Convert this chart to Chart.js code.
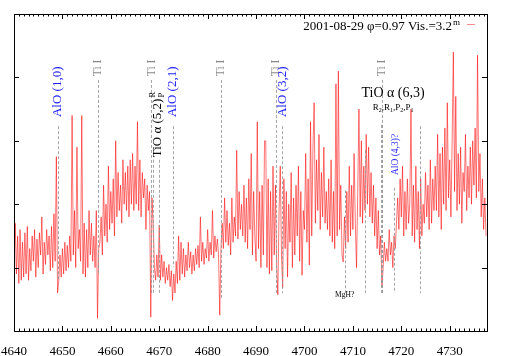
<!DOCTYPE html>
<html><head><meta charset="utf-8">
<script src="https://cdn.jsdelivr.net/npm/chart.js@4/dist/chart.umd.min.js"></script>
<style>html,body{margin:0;padding:0;background:#fff;}canvas{display:block;}</style>
</head><body>
<canvas id="c" width="509" height="356"></canvas>
<script>
// Wavelength grid (Angstrom), uniform sampling
const lambdaStart = 4640;
const lambdaStep = 0.25;
// Flux values (4 samples per Angstrom)
const flux = [
 1.0,1.7,0.9,1.5, 0.75,1.6,0.8,1.4, 0.85,1.55,0.9,1.65, 0.8,1.3,0.95,1.5, 1.1,1.6,0.85,1.45,
 1.0,1.55,1.2,1.8, 0.9,1.4,1.05,1.6, 1.2,1.5,0.95,1.65, 1.0,1.85,1.1,2.75, 0.6,0.8,1.2,0.85,
 1.3,0.9,1.4,0.95, 1.35,1.0,1.5,1.1, 3.4,1.2,1.9,1.0, 2.9,1.3,1.6,1.1, 3.4,0.9,1.7,0.85,
 1.6,1.0,1.9,1.2, 1.7,1.1,1.5,1.0, 1.9,0.2,1.3,1.4, 1.8,1.2,2.3,1.5, 2.0,1.4,2.6,1.6,
 2.2,1.7,2.4,1.5, 3.0,1.8,2.5,1.9, 2.3,1.7,2.7,2.0, 2.5,1.9,2.6,1.8, 2.7,2.0,2.8,1.9,
 2.6,2.0,3.3,1.9, 2.7,1.8,2.5,2.1, 2.4,1.6,2.3,1.9, 2.2,0.22,2.1,1.7, 1.0,0.8,1.2,0.85,
 1.67,0.8,1.2,0.85, 1.1,0.75,1.0,0.8, 1.05,0.7,0.95,0.48, 0.9,0.6,1.1,0.75, 1.5,0.8,1.4,0.9,
 1.3,0.85,1.2,0.95, 1.4,1.0,1.25,0.9, 1.2,0.95,1.3,1.05, 1.35,1.0,1.8,1.1, 1.4,1.05,1.3,1.15,
 1.6,1.1,1.4,1.2, 1.9,1.15,1.5,1.25, 1.45,1.2,0.25,1.3, 1.7,1.3,2.1,1.4, 1.9,1.35,1.7,1.2,
 2.1,1.4,1.8,1.5, 2.85,1.45,2.2,1.6, 2.0,1.5,2.3,1.4, 2.1,1.3,2.4,1.6, 2.8,1.2,2.2,1.5,
 1.1,3.3,1.3,2.2, 1.0,2.3,1.2,3.0, 3.0,1.0,2.4,0.9, 2.2,0.95,2.6,1.2, 2.3,1.0,0.57,1.9,
 2.6,1.2,0.68,2.4, 1.3,2.2,0.85,2.0, 1.4,2.5,1.0,2.1, 1.2,2.3,1.5,2.6, 1.1,2.2,0.88,1.9,
 1.6,2.8,1.4,2.4, 1.04,3.3,1.5,2.9, 3.6,1.7,2.7,1.9, 3.1,1.6,2.5,1.8, 2.9,1.7,2.2,1.6,
 2.4,1.5,2.7,1.4, 2.2,1.3,3.9,1.5, 4.1,1.6,2.3,1.2, 1.09,1.8,1.3,2.2, 1.4,2.6,1.5,2.3,
 1.6,2.8,1.7,1.0, 2.2,3.5,1.8,3.0, 1.7,2.6,1.9,3.1, 2.0,2.9,1.8,2.5, 1.7,2.3,1.5,2.1,
 1.3,1.9,1.2,1.5, 0.7,1.0,1.4,1.1, 1.3,1.1,1.6,1.2, 1.4,1.0,1.5,1.3, 1.7,2.1,1.6,2.4,
 1.8,2.6,1.5,2.2, 1.6,2.4,1.7,2.0, 3.5,1.5,2.3,1.4, 2.6,1.6,2.2,1.3, 2.4,1.5,2.0,1.7,
 2.5,1.8,2.3,1.6, 2.7,1.7,2.4,1.9, 2.6,1.9,3.1,1.8, 2.8,1.6,2.9,2.0, 3.2,1.9,3.6,2.1,
 2.7,1.8,3.0,4.4, 2.2,3.7,1.9,2.8, 2.0,2.9,1.7,2.5, 2.2,3.1,1.9,2.6, 2.1,2.9,2.0,3.0,
 2.3,3.2,2.1,4.35, 2.2,2.8,1.8,2.4, 1.6,2.1,1.5
];
const xTickLabels = [4640,4650,4660,4670,4680,4690,4700,4710,4720,4730];
const yTickValues = [1,2,3,4];

// Line identifications: position, top and bottom of dashed marker (data units)
const markPos = [4649.1, 4657.35, 4668.4, 4668.8, 4669.9, 4672.85, 4682.8, 4694.1, 4695.4, 4708.3, 4712.5, 4715.85, 4715.95, 4716.05, 4718.5, 4723.9];
const markTop = [3.23, 3.96, 3.96, 2.7, 2.7, 3.23, 3.96, 3.96, 3.23, 2.22, 2.85, 3.25, 3.96, 3.25, 2.26, 3.23];
const markBot = [0.8, 0.91, 0.6, 0.6, 0.6, 1.01, 0.49, 0.6, 0.6, 0.6, 0.6, 0.57, 0.57, 0.57, 0.6, 0.6];

// Rotated labels: text, wavelength, value at text start (bottom)
const rotText = ["AlO (1,0)", "Ti I", "Ti I", "AlO (2,1)", "Ti I", "Ti I", "AlO (3,2)", "Ti I", "AlO (4,3)?"];
const rotX    = [4649.1, 4657.35, 4668.4, 4672.85, 4682.8, 4694.1, 4695.4, 4716.0, 4718.7];
const rotY    = [3.375, 4.02, 4.02, 3.375, 4.02, 4.02, 3.375, 4.02, 2.46];
const rotKind = ["AlO", "Ti", "Ti", "AlO", "Ti", "Ti", "AlO", "Ti", "AlOs"];

const legendText = "2001-08-29 \u03C6=0.97 Vis.=3.2";

const SERIF = "'Liberation Serif','DejaVu Serif',serif";
const data = flux.map((v, i) => ({x: lambdaStart + i * lambdaStep, y: v}));

const annot = {
  id: 'annot',
  afterDatasetsDraw(chart) {
    const ctx = chart.ctx, xs = chart.scales.x, ys = chart.scales.y;
    ctx.save();
    ctx.strokeStyle = 'rgba(150,150,150,0.85)';
    ctx.lineWidth = 1;
    ctx.setLineDash([3, 2]);
    markPos.forEach((p, i) => {
      const px = Math.round(xs.getPixelForValue(p)) + 0.5;
      ctx.beginPath();
      ctx.moveTo(px, ys.getPixelForValue(markTop[i]));
      ctx.lineTo(px, ys.getPixelForValue(markBot[i]));
      ctx.stroke();
    });
    ctx.setLineDash([]);
    const styles = {
      AlO: {c: '#1a1aff', f: 13},
      Ti: {c: '#888888', f: 11.5},
      AlOs: {c: '#1a1aff', f: 9.5}
    };
    rotText.forEach((t, i) => {
      const s = styles[rotKind[i]];
      ctx.save();
      ctx.translate(xs.getPixelForValue(rotX[i]), ys.getPixelForValue(rotY[i]));
      ctx.rotate(-Math.PI / 2);
      ctx.font = s.f + 'px ' + SERIF;
      ctx.fillStyle = s.c;
      ctx.textAlign = 'left';
      ctx.textBaseline = 'middle';
      ctx.fillText(t, 0, 0);
      ctx.restore();
    });
    ctx.save();
    ctx.translate(xs.getPixelForValue(4669.75), ys.getPixelForValue(2.74));
    ctx.rotate(-Math.PI / 2);
    ctx.fillStyle = '#000';
    ctx.textAlign = 'left';
    ctx.textBaseline = 'middle';
    ctx.font = '13px ' + SERIF;
    const main = 'TiO \u03B1 (5,2)';
    ctx.fillText(main, 0, 0);
    const w = ctx.measureText(main).width;
    ctx.font = '8.5px ' + SERIF;
    ctx.fillText('R', w + 1, -5);
    ctx.fillText('P', w + 1, 4);
    ctx.restore();
    const cx = xs.getPixelForValue(4718.3);
    ctx.fillStyle = '#000';
    ctx.textAlign = 'center';
    ctx.textBaseline = 'alphabetic';
    ctx.font = '14px ' + SERIF;
    ctx.fillText('TiO \u03B1 (6,3)', cx, ys.getPixelForValue(3.69));
    const parts = [['R',0],['2',1],[',',0],['R',0],['1',1],[',',0],['P',0],['2',1],[',',0],['P',0],['1',1]];
    const big = '9px ' + SERIF, small = '6px ' + SERIF;
    let tot = 0;
    parts.forEach(p => { ctx.font = p[1] ? small : big; tot += ctx.measureText(p[0]).width; });
    let px = cx - tot / 2;
    const by = ys.getPixelForValue(3.49);
    ctx.textAlign = 'left';
    parts.forEach(p => {
      ctx.font = p[1] ? small : big;
      ctx.fillText(p[0], px, by + (p[1] ? 2 : 0));
      px += ctx.measureText(p[0]).width;
    });
    ctx.font = '7.5px ' + SERIF;
    ctx.textAlign = 'center';
    ctx.textBaseline = 'middle';
    ctx.fillText('MgH?', xs.getPixelForValue(4708.3), ys.getPixelForValue(0.57));
    ctx.restore();
  },
  afterDraw(chart) {
    const ctx = chart.ctx, xs = chart.scales.x, ys = chart.scales.y, a = chart.chartArea;
    ctx.save();
    ctx.strokeStyle = '#000';
    ctx.lineWidth = 1;
    for (let v = 4640; v <= 4737; v += 1) {
      const px = Math.round(xs.getPixelForValue(v)) + 0.5;
      const len = (v % 10 === 0) ? 5 : 2.5;
      ctx.beginPath();
      ctx.moveTo(px, a.bottom); ctx.lineTo(px, a.bottom - len);
      ctx.moveTo(px, a.top); ctx.lineTo(px, a.top + len);
      ctx.stroke();
    }
    yTickValues.forEach(v => {
      const py = Math.round(ys.getPixelForValue(v)) + 0.5;
      ctx.beginPath();
      ctx.moveTo(a.left, py); ctx.lineTo(a.left + 5, py);
      ctx.moveTo(a.right, py); ctx.lineTo(a.right - 5, py);
      ctx.stroke();
    });
    ctx.strokeRect(Math.round(a.left) + 0.5, Math.round(a.top) + 0.5, Math.round(a.right - a.left), Math.round(a.bottom - a.top));
    ctx.fillStyle = '#000';
    ctx.font = '13px ' + SERIF;
    ctx.textAlign = 'right';
    ctx.textBaseline = 'alphabetic';
    ctx.fillText(legendText, 452, 30);
    ctx.font = '9px ' + SERIF;
    ctx.textAlign = 'left';
    ctx.fillText('m', 453, 25);
    ctx.strokeStyle = 'rgba(255,0,0,0.45)';
    ctx.beginPath();
    ctx.moveTo(467, 24.5); ctx.lineTo(475, 24.5);
    ctx.stroke();
    ctx.restore();
  }
};

new Chart(document.getElementById('c'), {
  type: 'line',
  data: {
    datasets: [{
      data: data,
      borderColor: 'rgba(255,0,0,0.55)',
      borderWidth: 1,
      pointRadius: 0,
      tension: 0,
      fill: false
    }]
  },
  options: {
    responsive: false,
    animation: false,
    devicePixelRatio: 1,
    layout: {padding: {left: 14, right: 22, top: 14, bottom: 0}},
    plugins: {legend: {display: false}, tooltip: {enabled: false}},
    scales: {
      x: {
        type: 'linear',
        min: 4640,
        max: 4737.7,
        grid: {display: false},
        border: {display: false},
        afterBuildTicks: s => { s.ticks = xTickLabels.map(v => ({value: v})); },
        afterFit: s => { s.height = 25; s.paddingLeft = 0; s.paddingRight = 0; },
        ticks: {
          autoSkip: false,
          maxRotation: 0,
          padding: 5,
          color: '#000',
          font: {family: SERIF, size: 13},
          callback: v => String(v)
        }
      },
      y: {
        type: 'linear',
        min: 0,
        max: 5,
        grid: {display: false},
        border: {display: false},
        afterFit: s => { s.width = 0; s.paddingTop = 0; s.paddingBottom = 0; },
        ticks: {display: false}
      }
    }
  },
  plugins: [annot]
});
</script>
</body></html>
